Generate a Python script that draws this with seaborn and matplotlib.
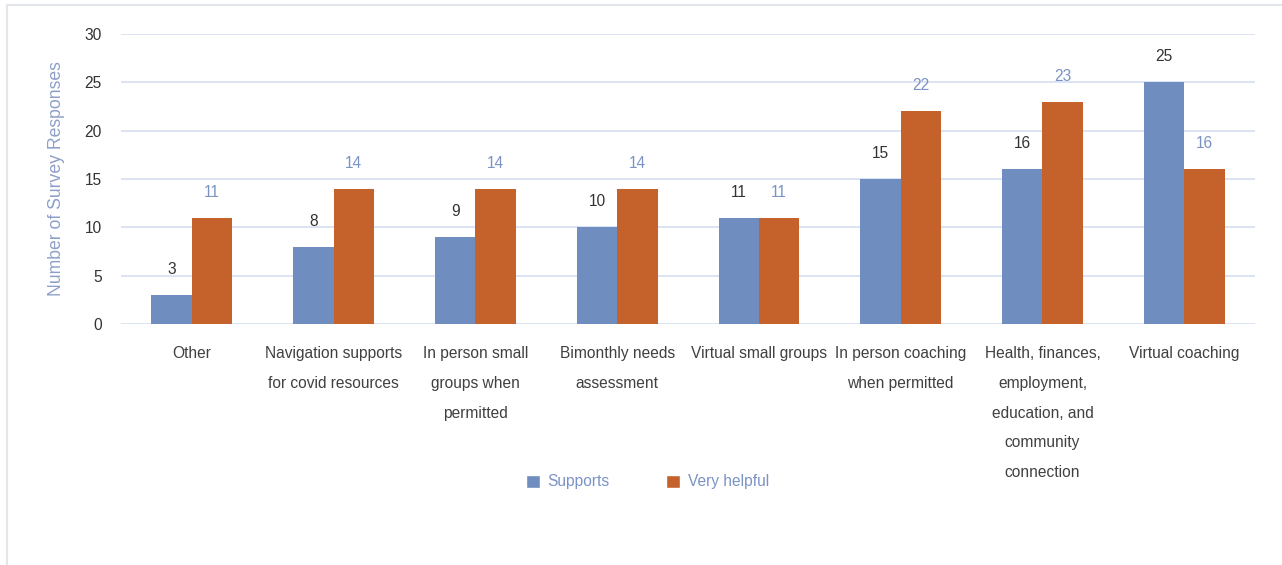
import matplotlib
matplotlib.use("Agg")
import matplotlib.pyplot as plt
import seaborn as sns
import pandas as pd
from matplotlib.lines import Line2D
from matplotlib.patches import Patch

categories = [
    "Other",
    "Navigation supports for covid resources",
    "In person small groups when permitted",
    "Bimonthly needs assessment",
    "Virtual small groups",
    "In person coaching when permitted",
    "Health, finances, employment, education, and community connection",
    "Virtual coaching",
]
tick_labels = [
    "Other",
    "Navigation supports\nfor covid resources",
    "In person small\ngroups when\npermitted",
    "Bimonthly needs\nassessment",
    "Virtual small groups",
    "In person coaching\nwhen permitted",
    "Health, finances,\nemployment,\neducation, and\ncommunity\nconnection",
    "Virtual coaching",
]
supports = [3, 8, 9, 10, 11, 15, 16, 25]
very_helpful = [11, 14, 14, 14, 11, 22, 23, 16]
series_names = ["Supports", "Very helpful"]

BLUE = "#6F8DBF"
ORANGE = "#C5622B"
GRID = "#D9E1F2"
TEXT = "#404040"
LABEL_BLUE = "#7B93C4"
FS = 11.2

sns.set_theme(style="white")
plt.rcParams["font.family"] = ["Liberation Sans", "DejaVu Sans"]

df = pd.DataFrame({
    "category": categories * 2,
    "series": [series_names[0]] * len(categories) + [series_names[1]] * len(categories),
    "value": supports + very_helpful,
})

fig = plt.figure(figsize=(12.82, 5.65), dpi=100)
ax = fig.add_axes([0.0944, 0.4265, 0.8846, 0.5133])

sns.barplot(data=df, x="category", y="value", hue="series", order=categories,
            hue_order=series_names, palette=[BLUE, ORANGE], width=0.57,
            gap=0, saturation=1, edgecolor="none", linewidth=0, ax=ax, legend=False)

ax.set_ylim(0, 30)
ax.set_xlim(-0.5, len(categories) - 0.5)
ax.set_yticks(range(0, 31, 5))
for y in range(0, 31, 5):
    ax.axhline(y, color=GRID, lw=1.3, zorder=0)
ax.set_axisbelow(True)
for s in ax.spines.values():
    s.set_visible(False)

ax.set_xticks(range(len(categories)))
ax.set_xticklabels(tick_labels, fontsize=FS, color=TEXT, linespacing=2.22, va="top")
ax.tick_params(axis="x", length=0, pad=16)
ax.tick_params(axis="y", length=0, pad=14, labelsize=FS, labelcolor="#333333")
ax.set_xlabel("")
ax.set_ylabel("Number of Survey Responses", fontsize=12.7, color="#8EA0C8", labelpad=14)

label_colors = ["#333333", LABEL_BLUE]
for cont, col in zip(ax.containers, label_colors):
    ax.bar_label(cont, fmt="%d", padding=13, fontsize=FS, color=col)

handles = [Patch(facecolor=BLUE, label=series_names[0]),
           Patch(facecolor=ORANGE, label=series_names[1])]
leg = fig.legend(handles=handles, loc="center", bbox_to_anchor=(0.505, 0.147),
                 ncol=2, frameon=False, fontsize=FS, handlelength=0.9,
                 handleheight=0.9, handletextpad=0.5, columnspacing=3.6)
for t in leg.get_texts():
    t.set_color(LABEL_BLUE)

# outer frame lines
fig.add_artist(Line2D([7 / 1282, 7 / 1282], [0, 1 - 5 / 565], color="#E3E6EA", lw=1.5,
                      transform=fig.transFigure))
fig.add_artist(Line2D([7 / 1282, 1], [1 - 5 / 565, 1 - 5 / 565], color="#E3E6EA", lw=1.5,
                      transform=fig.transFigure))

fig.savefig("out.png", dpi=100, facecolor="white")
